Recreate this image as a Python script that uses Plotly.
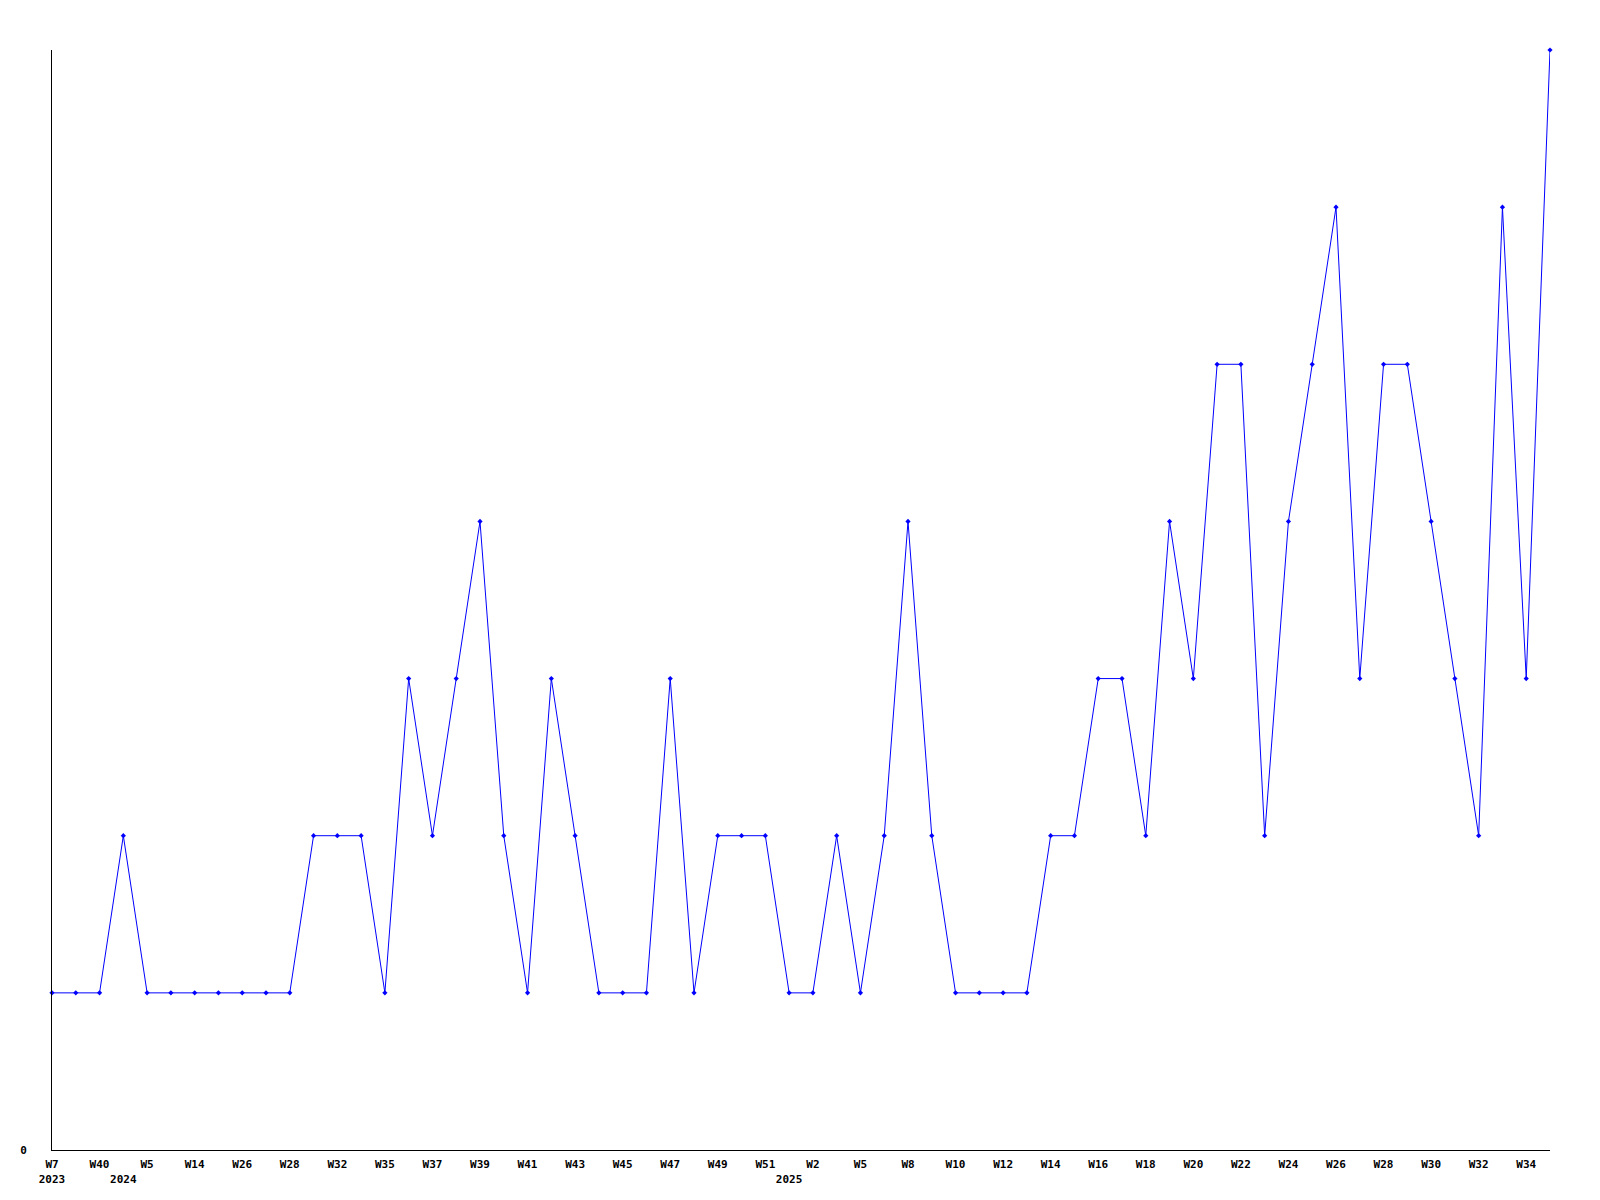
import plotly.graph_objects as go

weeks = ["W7", "W20", "W40", "W2", "W5", "W9", "W14", "W20", "W26", "W27",
         "W28", "W30", "W32", "W33", "W35", "W36", "W37", "W38", "W39", "W40",
         "W41", "W42", "W43", "W44", "W45", "W46", "W47", "W48", "W49", "W50",
         "W51", "W1", "W2", "W3", "W5", "W6", "W8", "W9", "W10", "W11",
         "W12", "W13", "W14", "W15", "W16", "W17", "W18", "W19", "W20", "W21",
         "W22", "W23", "W24", "W25", "W26", "W27", "W28", "W29", "W30", "W31",
         "W32", "W33", "W34", "W35"]
years = [2023, 2023, 2023] + [2024] * 28 + [2025] * 33
values = [1, 1, 1, 2, 1, 1, 1, 1, 1, 1,
          1, 2, 2, 2, 1, 3, 2, 3, 4, 2,
          1, 3, 2, 1, 1, 1, 3, 1, 2, 2,
          2, 1, 1, 2, 1, 2, 4, 2, 1, 1,
          1, 1, 2, 2, 3, 3, 2, 4, 3, 5,
          5, 2, 4, 5, 6, 3, 5, 5, 4, 3,
          2, 6, 3, 7]

idx = list(range(len(values)))

tickvals, ticktext = [], []
for i in idx:
    first_of_year = (i == 0) or (years[i] != years[i - 1])
    week_lbl = weeks[i] if i % 2 == 0 else ""
    if week_lbl or first_of_year:
        tickvals.append(i)
        ticktext.append(week_lbl + ("<br>" + str(years[i]) if first_of_year else ""))

fig = go.Figure()
fig.add_trace(go.Scatter(
    x=idx, y=values, mode="lines+markers",
    line=dict(color="#0000ff", width=1),
    marker=dict(symbol="diamond", size=4, color="#0000ff"),
    cliponaxis=False,
))

font = dict(family="DejaVu Sans Mono", size=11, color="#000000", weight="bold")
fig.update_layout(
    width=1592, height=1192,
    margin=dict(l=42, r=50, t=42, b=50),
    paper_bgcolor="white", plot_bgcolor="white",
    showlegend=False,
    font=font,
)
fig.update_xaxes(
    range=[0, len(values) - 1], tickvals=tickvals, ticktext=ticktext,
    showgrid=False, zeroline=False, showline=True, linecolor="black", linewidth=1,
    ticks="", ticklabelstandoff=4, tickfont=font, tickangle=0,
)
fig.update_yaxes(
    range=[0, 7], tickvals=[0], ticktext=["0"],
    showgrid=False, zeroline=False, showline=True, linecolor="black", linewidth=1,
    ticks="", ticklabelstandoff=22, tickfont=font,
)
fig.write_html("out.html")
